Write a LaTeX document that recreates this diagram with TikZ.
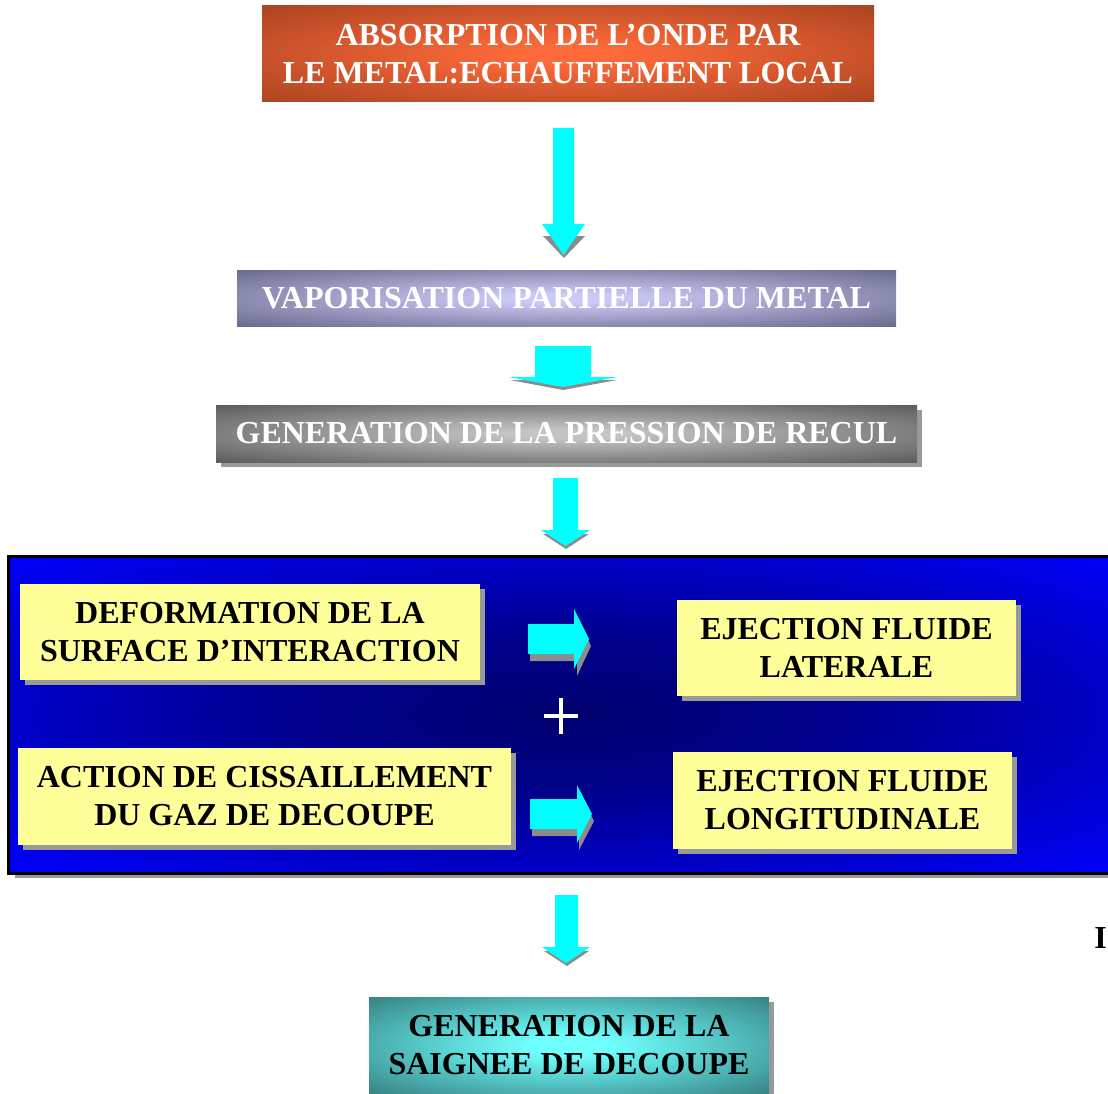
\documentclass[tikz,border=0pt]{standalone}
\usepackage{fontspec}
\setmainfont{Liberation Serif}
\usetikzlibrary{shadows}

\definecolor{orin}{HTML}{FF6A3A}
\definecolor{orout}{HTML}{A4411F}
\definecolor{vioin}{HTML}{CACAF7}
\definecolor{vioout}{HTML}{5C5C7C}
\definecolor{grin}{HTML}{C4C4C4}
\definecolor{grout}{HTML}{4C4C4C}
\definecolor{tlin}{HTML}{70FFFF}
\definecolor{tlout}{HTML}{2E7070}
\definecolor{bldark}{HTML}{00006E}
\definecolor{blmid}{HTML}{00008C}
\definecolor{blbright}{HTML}{0000FF}
\definecolor{yel}{HTML}{FFFF99}
\definecolor{shd}{HTML}{999999}
\definecolor{cyanarr}{HTML}{00FFFF}

\pgfdeclareradialshading{orangeglow}{\pgfpoint{0bp}{0bp}}{color(0bp)=(orin); color(4bp)=(orin); color(38bp)=(orout); color(75bp)=(orout)}
\pgfdeclareradialshading{violetglow}{\pgfpoint{0bp}{0bp}}{color(0bp)=(vioin); color(4bp)=(vioin); color(40bp)=(vioout); color(75bp)=(vioout)}
\pgfdeclareradialshading{greyglow}{\pgfpoint{0bp}{0bp}}{color(0bp)=(grin); color(4bp)=(grin); color(40bp)=(grout); color(75bp)=(grout)}
\pgfdeclareradialshading{tealglow}{\pgfpoint{0bp}{0bp}}{color(0bp)=(tlin); color(5bp)=(tlin); color(40bp)=(tlout); color(75bp)=(tlout)}
\pgfdeclareradialshading{blueglow}{\pgfpoint{0bp}{0bp}}{color(0bp)=(bldark); color(12bp)=(blmid); color(36bp)=(blbright); color(80bp)=(blbright)}

\tikzset{
  txt/.style={font=\bfseries\fontsize{32}{38}\selectfont, align=center, inner sep=0pt},
  topbox/.style={txt, rectangle, text=white, shade},
  yelbox/.style={txt, rectangle, fill=yel, text=black,
     drop shadow={shadow xshift=5pt, shadow yshift=-5pt, fill=shd, opacity=1}},
  arr/.style={fill=cyanarr, draw=none},
  arrshadow/.style={fill=black!45, draw=none},
  plussign/.style={draw=white, line width=4pt}
}

\begin{document}
\begin{tikzpicture}[x=1pt, y=-1pt]
\useasboundingbox[fill=white] (0,0) rectangle (1108,1094);

% top boxes
\node[topbox, shading=orangeglow, minimum width=612pt, minimum height=96pt] (absorb) at (568,54)
  {ABSORPTION DE L’ONDE PAR\\LE METAL:ECHAUFFEMENT LOCAL};
\node[topbox, shading=violetglow, minimum width=659pt, minimum height=56pt] (vapor) at (566.5,298)
  {VAPORISATION PARTIELLE DU METAL};
\node[topbox, shading=greyglow, minimum width=701pt, minimum height=57pt,
      drop shadow={shadow xshift=5pt, shadow yshift=-5pt, fill=shd, opacity=1}] (recul) at (566.5,433.5)
  {GENERATION DE LA PRESSION DE RECUL};

% arrow 1
\fill[arrshadow] (543,236) -- (585,236) -- (564,258) -- cycle;
\fill[arr] (553,128) -- (574,128) -- (574,224) -- (585,224) -- (563.5,255) -- (542,224) -- (553,224) -- cycle;
% arrow 2
\fill[arrshadow] (510,380) -- (617,380) -- (563,390) -- cycle;
\fill[arr] (535,346) -- (591,346) -- (591,377) -- (618,377) -- (563,387) -- (508,377) -- (535,377) -- cycle;
% arrow 3
\fill[arrshadow] (543,534) -- (589,534) -- (566,549) -- cycle;
\fill[arr] (553,478) -- (578,478) -- (578,530) -- (590,530) -- (565.5,546) -- (541,530) -- (553,530) -- cycle;

% blue panel
\path[shade, shading=blueglow, draw=black, line width=3pt,
      drop shadow={shadow xshift=6pt, shadow yshift=-5pt, fill=shd, opacity=1}]
  (8.5,556.5) rectangle (1125,873);

% yellow boxes
\node[yelbox, minimum width=460pt, minimum height=96pt] (deform) at (250,632)
  {DEFORMATION DE LA\\SURFACE D’INTERACTION};
\node[yelbox, minimum width=493pt, minimum height=97pt] (cisail) at (264.5,796.5)
  {ACTION DE CISSAILLEMENT\\DU GAZ DE DECOUPE};
\node[yelbox, minimum width=339pt, minimum height=96pt] (lateral) at (846.5,648)
  {EJECTION FLUIDE\\LATERALE};
\node[yelbox, minimum width=339pt, minimum height=97pt] (longit) at (842.5,800)
  {EJECTION FLUIDE\\LONGITUDINALE};

% right arrows
\fill[arrshadow] (530,631) -- (577,631) -- (577,616) -- (591,646) -- (577,676) -- (577,661) -- (530,661) -- cycle;
\fill[arr] (528,624) -- (574,624) -- (574,609) -- (589,639) -- (574,669) -- (574,654) -- (528,654) -- cycle;
\fill[arrshadow] (532,806) -- (579,806) -- (579,792) -- (594,821) -- (579,850) -- (579,836) -- (532,836) -- cycle;
\fill[arr] (530,799) -- (577,799) -- (577,785) -- (592,814) -- (577,843) -- (577,829) -- (530,829) -- cycle;

% plus sign
\draw[plussign] (544,716) -- (578,716);
\draw[plussign] (561,698) -- (561,734);

% arrow 4
\fill[arrshadow] (544,951) -- (589,951) -- (567,966) -- cycle;
\fill[arr] (555,895) -- (578,895) -- (578,947) -- (590,947) -- (566,963) -- (542,947) -- (555,947) -- cycle;

% final box
\node[txt, rectangle, shade, shading=tealglow, text=black, minimum width=400pt, minimum height=97pt,
      drop shadow={shadow xshift=5pt, shadow yshift=-5pt, fill=shd, opacity=1}] (saignee) at (569,1045.5)
  {GENERATION DE LA\\SAIGNEE DE DECOUPE};

% stray letter near the right edge
\node[txt, anchor=base east] (stray) at (1107,948) {I};
\end{tikzpicture}
\end{document}
